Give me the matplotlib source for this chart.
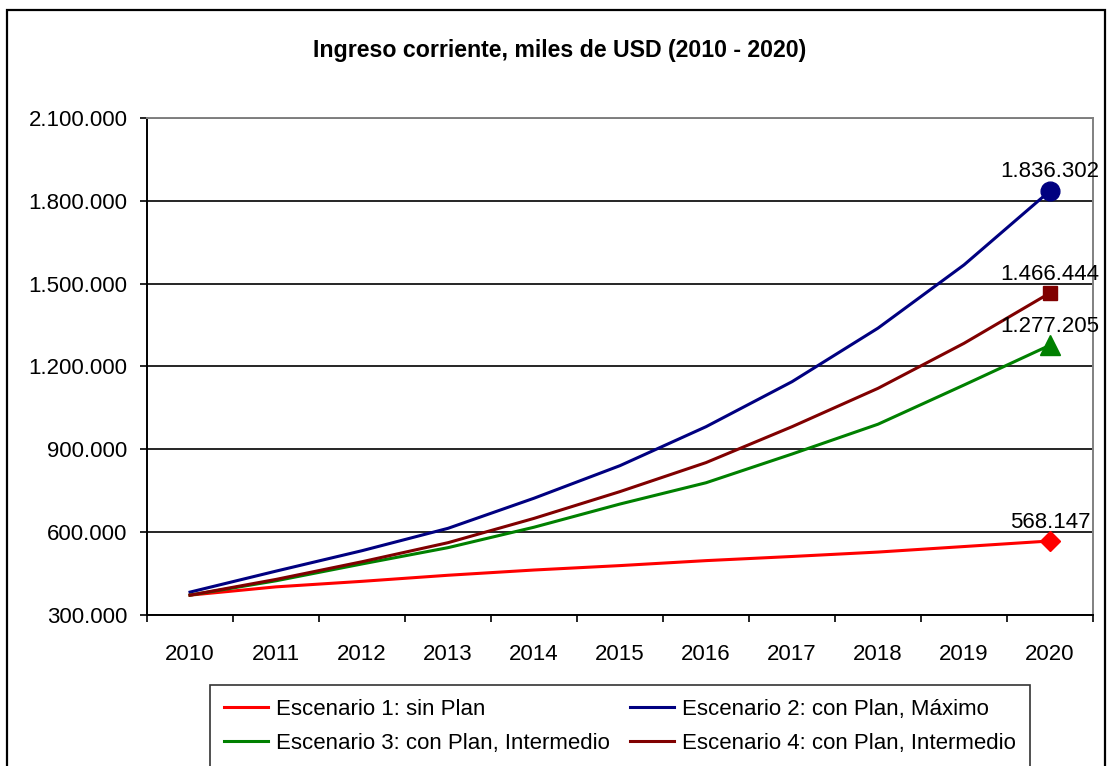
import matplotlib
matplotlib.use('Agg')
import matplotlib.pyplot as plt
import matplotlib.patches as mpatches
from matplotlib.ticker import FuncFormatter, MultipleLocator, FixedLocator
import numpy as np

plt.rcParams.update({
    'font.family': ['Liberation Sans', 'DejaVu Sans'],
    'figure.facecolor': 'white',
    'axes.facecolor': 'white',
})

# ── Datos (miles de USD) ─────────────────────────────────────────────────────
anios = ['2010', '2011', '2012', '2013', '2014', '2015',
         '2016', '2017', '2018', '2019', '2020']

esc1_sin_plan = [372000, 402000, 422000, 444000, 463000, 479000,
                 497000, 512000, 528000, 548000, 568147]
esc2_maximo = [383000, 459000, 533000, 614000, 723000, 841000,
               982000, 1145000, 1339000, 1568000, 1836302]
esc3_intermedio = [372000, 424000, 485000, 544000, 618000, 702000,
                   779000, 883000, 991000, 1133000, 1277205]
esc4_intermedio = [372000, 429000, 493000, 562000, 650000, 747000,
                   852000, 982000, 1121000, 1284000, 1466444]

nombres = ['Escenario 1: sin Plan',
           'Escenario 2: con Plan, Máximo',
           'Escenario 3: con Plan, Intermedio',
           'Escenario 4: con Plan, Intermedio']

ROJO = '#FF0000'
AZUL = '#000080'
VERDE = '#008000'
GRANATE = '#800000'

series = [
    (esc1_sin_plan, ROJO, 'D', 10),
    (esc2_maximo, AZUL, 'o', 13.5),
    (esc3_intermedio, VERDE, '^', 15),
    (esc4_intermedio, GRANATE, 's', 10.5),
]


def miles(v, pos=None):
    return f'{int(round(v)):,}'.replace(',', '.')


fig = plt.figure(figsize=(11.09, 7.66), dpi=100)
ax = fig.add_axes([0.1326, 0.1971, 0.8530, 0.6489])

x = np.arange(len(anios))
lineas = []
for (vals, color, marker, ms), nombre in zip(series, nombres):
    ln, = ax.plot(x, vals, color=color, lw=2.2, zorder=3,
                  solid_joinstyle='round', label=nombre)
    lineas.append(ln)
    # marcador y rótulo sólo en el último año
    ax.plot(x[-1], vals[-1], marker=marker, ms=ms, color=color,
            markeredgecolor=color, ls='none', zorder=4, clip_on=False)
    ax.annotate(miles(vals[-1]), (x[-1], vals[-1]),
                xytext=(0, 6), textcoords='offset points',
                ha='center', va='bottom', fontsize=16, color='black',
                zorder=5, annotation_clip=False)

ax.set_xlim(-0.5, len(anios) - 0.5)
ax.set_ylim(300000, 2100000)

ax.yaxis.set_major_locator(MultipleLocator(300000))
ax.yaxis.set_major_formatter(FuncFormatter(miles))
ax.grid(axis='y', color='black', lw=1.2, zorder=1)

ax.set_xticks(x)
ax.set_xticklabels(anios)
ax.xaxis.set_minor_locator(FixedLocator(np.arange(-0.5, len(anios), 1.0)))
ax.tick_params(axis='x', which='major', length=0, pad=21, labelsize=16)
ax.tick_params(axis='x', which='minor', length=5, width=1.2, direction='out')
ax.tick_params(axis='y', length=5, width=1.2, direction='out', pad=9,
               labelsize=16)

for lado in ['left', 'bottom']:
    ax.spines[lado].set_color('black')
    ax.spines[lado].set_linewidth(1.4)
for lado in ['top', 'right']:
    ax.spines[lado].set_color('#808080')
    ax.spines[lado].set_linewidth(1.4)

fig.text(0.505, 0.9347, 'Ingreso corriente, miles de USD (2010 - 2020)',
         ha='center', va='center', fontsize=16.7, fontweight='bold')

# Leyenda: fila 1 -> esc. 1 y 2, fila 2 -> esc. 3 y 4
orden = [lineas[0], lineas[2], lineas[1], lineas[3]]
leg = fig.legend(handles=orden, labels=[l.get_label() for l in orden],
                 ncol=2, loc='upper left',
                 bbox_to_anchor=(210 / 1109, 1 - 685 / 766),
                 fontsize=16, frameon=True, fancybox=False,
                 edgecolor='black', handlelength=2.0, handletextpad=0.35,
                 columnspacing=0.9, labelspacing=0.58, borderpad=0.62,
                 borderaxespad=0)
leg.get_frame().set_linewidth(1.2)

# Marco exterior del gráfico
fig.add_artist(mpatches.Rectangle((7 / 1109, -0.05), 1098 / 1109, 1.05 - 10 / 766,
                                  transform=fig.transFigure, fill=False,
                                  edgecolor='black', lw=1.6, clip_on=False))

plt.savefig('out.png', dpi=100, facecolor='white')
plt.close()
